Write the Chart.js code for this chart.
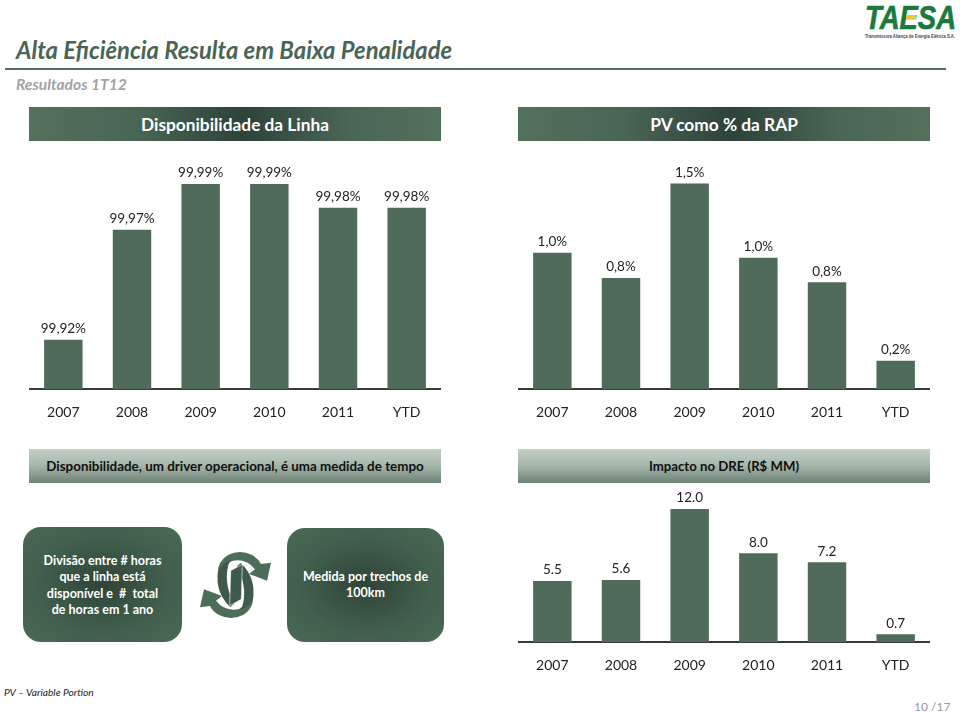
<!DOCTYPE html>
<html lang="pt">
<head>
<meta charset="utf-8">
<title>Alta Eficiência Resulta em Baixa Penalidade</title>
<script src="https://cdn.jsdelivr.net/npm/chart.js@4"></script>
<style>
html, body { margin: 0; padding: 0; background: #fff; }
body { width: 960px; height: 714px; position: relative; overflow: hidden; font-family: Lato, sans-serif; }
div, canvas, svg { position: absolute; }
#title { left: 16px; top: 36px; font: italic bold 23.8px Lato; color: #4a6555; white-space: nowrap; line-height: 28px; }
#rule { left: 5px; top: 68px; width: 941px; height: 2px; background: #55705f; }
#subtitle { left: 16px; top: 75px; font: italic bold 15.6px Lato; color: #a3a3a3; line-height: 18px; white-space: nowrap; }
.head { height: 34px; line-height: 35px; text-align: center; white-space: nowrap; }
.dark { top: 107px; line-height: 36px; background: linear-gradient(90deg, #54715c, #4a6655 25%, #2e433a 52%, #4a6655 78%, #54715c); color: #fff; font-weight: bold; font-size: 17.3px; }
.light { top: 449px; background: linear-gradient(180deg, #c3d0c5, #a9b9ad 45%, #6f8276); color: #111; font-weight: bold; font-size: 13.4px; }
.box { top: 527px; height: 115px; border-radius: 18px; background: radial-gradient(ellipse at center, #2f4438, #42604d 60%, #4a6a55); color: #fff; font-weight: bold; font-size: 12.5px; line-height: 16.3px; text-align: center; }
.box span { position: absolute; left: 0; right: 0; }
#foot { left: 4px; top: 685px; font: italic 10.2px Lato; color: #222; white-space: nowrap; line-height: 14px; }
#page { left: 914px; top: 699px; font: 12px Lato; color: #999; white-space: nowrap; line-height: 16px; }
</style>
</head>
<body>
<div id="title">Alta Eficiência Resulta em Baixa Penalidade</div>
<div id="rule"></div>
<div id="subtitle">Resultados 1T12</div>

<svg style="left:860px;top:0" width="100" height="42" viewBox="0 0 100 42">
  <text x="5" y="29" font-family="Liberation Sans" font-weight="bold" font-style="italic" font-size="33" fill="#1a7a3c" stroke="#1a7a3c" stroke-width="0.7" textLength="91" lengthAdjust="spacingAndGlyphs">TAESA</text>
  <rect x="46" y="15" width="10" height="4" fill="#e8c83a"></rect>
  <text x="5" y="38" font-family="Liberation Sans" font-weight="bold" font-size="5" fill="#444" textLength="90" lengthAdjust="spacingAndGlyphs">Transmissora Aliança de Energia Elétrica S.A.</text>
</svg>

<div class="head dark" style="left:29px;width:412px">Disponibilidade da Linha</div>
<div class="head dark" style="left:518px;width:412px">PV como % da RAP</div>
<div class="head light" style="left:29px;width:412px">Disponibilidade, um driver operacional, é uma medida de tempo</div>
<div class="head light" style="left:518px;width:412px;font-size:13.2px">Impacto no DRE (R$ MM)</div>

<div class="box" style="left:23px;width:159px">
  <span style="top:26px">Divisão entre # horas<br>que a linha está<br>disponível e&nbsp; #&nbsp; total<br>de horas em 1 ano</span>
</div>
<div class="box" style="left:287px;width:157px;top:528px;height:114px">
  <span style="top:41px">Medida por trechos de<br>100km</span>
</div>

<svg style="left:190px;top:540px" width="90" height="90" viewBox="190 540 90 90">
  <g id="arrow">
    <path d="M218 578 Q216 562 228 555 Q240 549 252 555 Q258 558 261 564 L271 562.7 L267 580.7 L249 574 L255 569.3 Q246 558 232 561 Q224 565 218 578 Z" fill="#4d6d59"></path>
    <path d="M218 572 Q222 563 230 560 Q222 580 234 604 L230 607 Q215 592 218 572 Z" fill="#3f5a4a"></path>
  </g>
  <use href="#arrow" transform="rotate(180 235.5 585)"></use>
  <path d="M230.7 570.7 L242.3 564.3 L241.3 599.3 L229.7 605.7 Z" fill="#3f5a4a" stroke="#fff" stroke-width="0.6"></path>
</svg>

<canvas id="chart_linha" style="left:29px;top:150px"></canvas>
<canvas id="chart_pv" style="left:518px;top:150px"></canvas>
<canvas id="chart_dre" style="left:518px;top:490px"></canvas>

<div id="foot">PV – Variable Portion</div>
<div id="page">10 /17</div>

<script>
const years = ['2007', '2008', '2009', '2010', '2011', 'YTD']
const linha_values = [99.92, 99.97, 99.9907, 99.9907, 99.98, 99.98]
const pv_values = [0.995, 0.81, 1.5, 0.958, 0.779, 0.207]
const dre_values = [5.5, 5.6, 12.0, 8.0, 7.2, 0.7]

const bar_color = '#506b5a'

const value_labels = {
    id: 'value_labels',
    afterDatasetsDraw(chart, args, opts) {
        let ctx = chart.ctx
        let meta = chart.getDatasetMeta(0)
        ctx.save()
        ctx.font = '13.5px Lato'
        ctx.fillStyle = '#222'
        ctx.textAlign = 'center'
        ctx.textBaseline = 'middle'
        meta.data.forEach((bar, i) => {
            ctx.fillText(opts.format(chart.data.datasets[0].data[i]), bar.x, bar.y - 11)
        })
        ctx.restore()
    }
}

function draw_bars(id, values, y_min, y_max, plot_height, format) {
    let canvas = document.getElementById(id)
    canvas.width = 412
    canvas.height = plot_height + 40
    return new Chart(canvas.getContext('2d'), {
        type: 'bar',
        data: {
            labels: years,
            datasets: [{
                data: values,
                backgroundColor: bar_color,
                barPercentage: 0.56,
                categoryPercentage: 1
            }]
        },
        options: {
            responsive: false,
            animation: false,
            layout: { padding: 0 },
            plugins: {
                legend: { display: false },
                tooltip: { enabled: false },
                value_labels: { format }
            },
            scales: {
                y: { display: false, min: y_min, max: y_max },
                x: {
                    afterFit: (scale) => { scale.height = 40 },
                    grid: { display: false },
                    border: { color: '#3a3a3a', width: 2 },
                    ticks: { color: '#222', font: { family: 'Lato', size: 14 }, padding: 7, maxRotation: 0 }
                }
            }
        },
        plugins: [value_labels]
    })
}

draw_bars('chart_linha', linha_values, 99.8976, 100.0062, 239, (v) => v.toFixed(2).replace('.', ',') + '%')
draw_bars('chart_pv', pv_values, 0, 1.745, 239, (v) => v.toFixed(1).replace('.', ',') + '%')
draw_bars('chart_dre', dre_values, 0, 13.72, 152, (v) => v.toFixed(1))
</script>
</body>
</html>
